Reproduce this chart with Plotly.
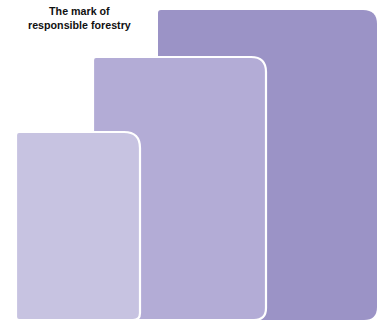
import plotly.graph_objects as go

# three stacked "cards" (back -> front)
labels = ["back", "middle", "front"]
x_start = [158, 93, 16]
x_end = [377, 266, 140]
heights = [310, 263, 188]

colors = ["#9b93c6", "#b3acd6", "#c7c3e1"]
outline = [0, 2.2, 2.2]
# corner radii: top-left, top-right, bottom-right, bottom-left
radii = [(3, 14, 13, 3), (3, 15, 12, 3), (3, 16, 7, 3)]


def rounded_path(x0, x1, y0, y1, r):
    tl, tr, br, bl = r
    return (
        f"M {x0},{y1 - tl} Q {x0},{y1} {x0 + tl},{y1} "
        f"L {x1 - tr},{y1} Q {x1},{y1} {x1},{y1 - tr} "
        f"L {x1},{y0 + br} Q {x1},{y0} {x1 - br},{y0} "
        f"L {x0 + bl},{y0} Q {x0},{y0} {x0},{y0 + bl} Z"
    )


fig = go.Figure()
# invisible trace so the axes are built
fig.add_trace(go.Scatter(x=[100], y=[100], mode="markers", marker=dict(opacity=0),
                         hoverinfo="skip", showlegend=False))

for i, name in enumerate(labels):
    fig.add_shape(
        type="path",
        xref="x", yref="y",
        path=rounded_path(x_start[i], x_end[i], 0, heights[i], radii[i]),
        fillcolor=colors[i],
        line=dict(color="white", width=outline[i]),
        name=name,
    )

fig.add_annotation(
    x=79, y=302.5, xref="x", yref="y",
    text="<b>The mark of<br>responsible forestry</b>",
    showarrow=False,
    font=dict(family="Liberation Sans, Arial", size=10.7, color="#111111"),
    align="center",
)

fig.update_layout(
    width=389, height=325,
    margin=dict(l=0, r=0, t=0, b=0),
    paper_bgcolor="white",
    plot_bgcolor="white",
    xaxis=dict(range=[0, 389], visible=False, fixedrange=True),
    yaxis=dict(range=[-5, 320], visible=False, fixedrange=True),
    showlegend=False,
)

# drop the default page margin so the figure sits at the window's corner
fig.write_html("out.html", config={"displayModeBar": False},
               post_script="document.body.style.margin='0';")
